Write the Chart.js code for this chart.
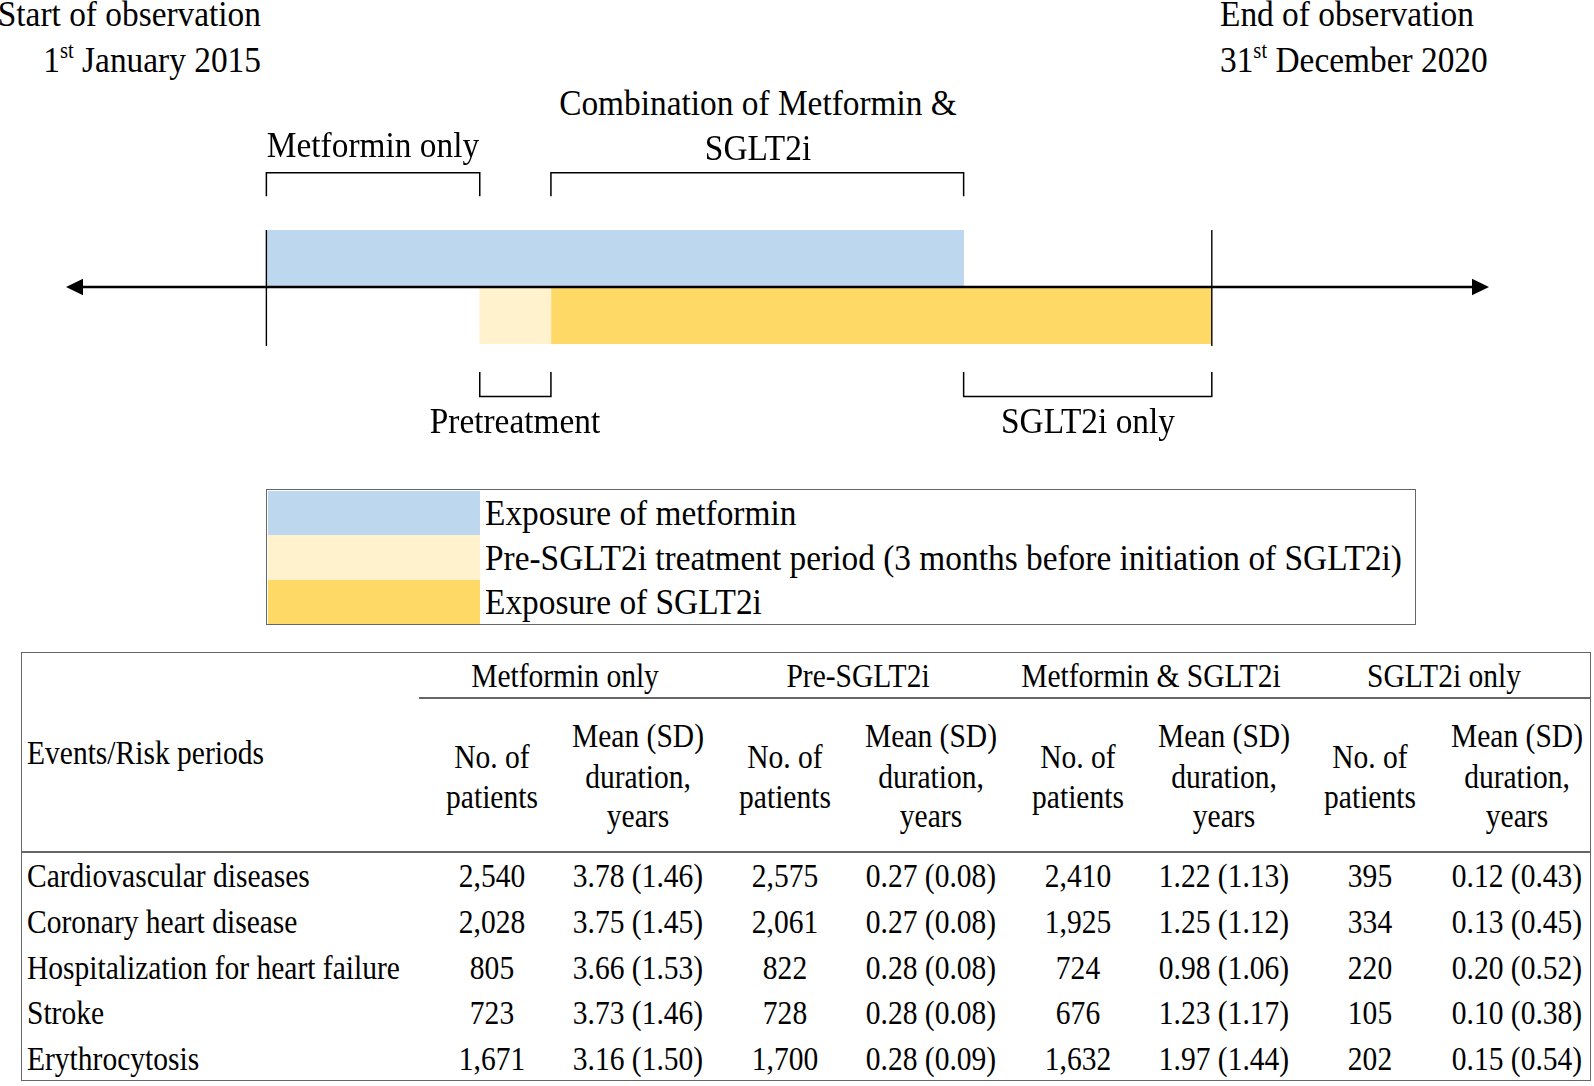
<!DOCTYPE html>
<html>
<head>
<meta charset="utf-8">
<script src="https://cdn.jsdelivr.net/npm/chart.js@4.4.1/dist/chart.umd.min.js"></script>
<style>
body { margin: 0; width: 1594px; height: 1086px; position: relative; overflow: hidden; background: #fff;
  font-family: "Liberation Serif", "Times New Roman", serif; color: #000; }
.t { position: absolute; white-space: nowrap; line-height: 1; }
.t sup { font-size: 0.62em; vertical-align: baseline; position: relative; top: -0.62em; }
.box { position: absolute; box-sizing: border-box; }
#tlwrap { position: absolute; left: 66px; top: 160px; }
</style>
</head>
<body>
<div id="tlwrap"><canvas id="timeline" width="1423" height="250"></canvas></div>

<script>
// timeline, in months from 1 January 2015
var rows = ["Metformin", "SGLT2i"];
var obsStart = 0, obsEnd = 72;
var axisRange = [-15.26, 93.11];
var metforminBar = [0, 53.1];
var preBar = [16.25, 21.67];
var sglt2Bar = [21.67, 72];
var topBrackets = [[0, 16.25], [21.67, 53.1]];
var bottomBrackets = [[16.25, 21.67], [53.1, 72]];
var legendLabels = ["Exposure of metformin",
  "Pre-SGLT2i treatment period (3 months before initiation of SGLT2i)",
  "Exposure of SGLT2i"];

// table
var groups = ["Metformin only", "Pre-SGLT2i", "Metformin & SGLT2i", "SGLT2i only"];
var events = ["Cardiovascular diseases", "Coronary heart disease", "Hospitalization for heart failure", "Stroke", "Erythrocytosis"];
var patients = [
  [2540, 2028, 805, 723, 1671],
  [2575, 2061, 822, 728, 1700],
  [2410, 1925, 724, 676, 1632],
  [395, 334, 220, 105, 202]
];
var meanDur = [
  [3.78, 3.75, 3.66, 3.73, 3.16],
  [0.27, 0.27, 0.28, 0.28, 0.28],
  [1.22, 1.25, 0.98, 1.23, 1.97],
  [0.12, 0.13, 0.20, 0.10, 0.15]
];
var sdDur = [
  [1.46, 1.45, 1.53, 1.46, 1.50],
  [0.08, 0.08, 0.08, 0.08, 0.09],
  [1.13, 1.12, 1.06, 1.17, 1.44],
  [0.43, 0.45, 0.52, 0.38, 0.54]
];

function label(html, x, y, size, align, sx) {
  var d = document.createElement('div');
  d.className = 't';
  d.innerHTML = html;
  d.style.fontSize = size + 'px';
  d.style.left = x + 'px';
  d.style.top = y + 'px';
  var tx = align == 'center' ? '-50%' : (align == 'right' ? '-100%' : '0');
  var ox = align == 'center' ? '50%' : (align == 'right' ? '100%' : '0');
  d.style.transform = 'translate(' + tx + ',-50%) scaleX(' + sx + ')';
  d.style.transformOrigin = ox + ' 50%';
  document.body.appendChild(d);
  return d;
}
function box(x, y, w, h, css) {
  var d = document.createElement('div');
  d.className = 'box';
  d.style.left = x + 'px'; d.style.top = y + 'px';
  d.style.width = w + 'px'; d.style.height = h + 'px';
  for (var k in css) d.style[k] = css[k];
  document.body.appendChild(d);
  return d;
}

var timelinePlugin = {
  id: 'timelineMarks',
  afterDatasetsDraw: function(chart) {
    var c = chart.ctx, xs = chart.scales.x, a = chart.chartArea;
    var px = function(v) { return xs.getPixelForValue(v); };
    var mid = (a.top + a.bottom) / 2;
    c.save();
    c.strokeStyle = '#000';
    c.fillStyle = '#000';

    // start / end of observation
    c.lineWidth = 1.4;
    [obsStart, obsEnd].forEach(function(v) {
      c.beginPath();
      c.moveTo(px(v), a.top);
      c.lineTo(px(v), a.bottom + 2);
      c.stroke();
    });

    // time axis with arrows
    var x0 = px(axisRange[0]), x1 = px(axisRange[1]);
    c.lineWidth = 2.4;
    c.beginPath();
    c.moveTo(x0 + 10, mid);
    c.lineTo(x1 - 10, mid);
    c.stroke();
    c.beginPath();
    c.moveTo(x0, mid); c.lineTo(x0 + 17, mid - 8.3); c.lineTo(x0 + 17, mid + 8.3); c.closePath();
    c.fill();
    c.beginPath();
    c.moveTo(x1, mid); c.lineTo(x1 - 17, mid - 8.3); c.lineTo(x1 - 17, mid + 8.3); c.closePath();
    c.fill();

    // brackets
    c.lineWidth = 1.5;
    topBrackets.forEach(function(b) {
      c.beginPath();
      c.moveTo(px(b[0]), a.top - 33.8);
      c.lineTo(px(b[0]), a.top - 57.2);
      c.lineTo(px(b[1]), a.top - 57.2);
      c.lineTo(px(b[1]), a.top - 33.8);
      c.stroke();
    });
    bottomBrackets.forEach(function(b) {
      c.beginPath();
      c.moveTo(px(b[0]), a.bottom + 28);
      c.lineTo(px(b[0]), a.bottom + 52.5);
      c.lineTo(px(b[1]), a.bottom + 52.5);
      c.lineTo(px(b[1]), a.bottom + 28);
      c.stroke();
    });
    c.restore();
  }
};

var timelineChart = new Chart(document.getElementById('timeline').getContext('2d'), {
  type: 'bar',
  data: {
    labels: rows,
    datasets: [
      { label: legendLabels[0], data: [metforminBar, null], backgroundColor: '#BDD7EE' },
      { label: legendLabels[1], data: [null, preBar], backgroundColor: '#FFF2CC' },
      { label: legendLabels[2], data: [null, sglt2Bar], backgroundColor: '#FFD966' }
    ]
  },
  options: {
    indexAxis: 'y',
    responsive: false,
    animation: false,
    layout: { padding: { top: 70, bottom: 66, left: 0, right: 0 } },
    datasets: { bar: { grouped: false, barPercentage: 1, categoryPercentage: 1, borderWidth: 0 } },
    scales: {
      x: { type: 'linear', min: axisRange[0], max: axisRange[1], display: false },
      y: { display: false }
    },
    plugins: { legend: { display: false }, tooltip: { enabled: false } }
  },
  plugins: [timelinePlugin]
});

// timeline labels
var TF = 36, TS = 0.927;
label('Start of observation', 261, 14, TF, 'right', TS);
label('1<sup>st</sup> January 2015', 261, 59.5, TF, 'right', TS);
label('End of observation', 1220, 14, TF, 'left', TS);
label('31<sup>st</sup> December 2020', 1220, 59.5, TF, 'left', TS);
label('Metformin only', 373, 145.4, TF, 'center', TS);
label('Combination of Metformin &amp;', 758, 102.7, TF, 'center', TS);
label('SGLT2i', 758, 148.4, TF, 'center', TS);
label('Pretreatment', 515, 421, TF, 'center', TS);
label('SGLT2i only', 1088, 421, TF, 'center', TS);

// legend built from the chart datasets
var lineCol = '#666';
box(266, 489, 1150, 136, { border: '1.5px solid ' + lineCol });
timelineChart.data.datasets.forEach(function(ds, i) {
  var top = 490.5 + i * 44.5;
  box(267.5, top, 212, 44.5, { background: ds.backgroundColor });
  label(ds.label, 485, top + 22.5, TF, 'left', TS);
});

// table
var F = 34, S = 0.868;
box(21, 652, 1570, 429, { border: '1.5px solid ' + lineCol });
box(419, 697, 1172, 1.5, { background: lineCol });
box(21, 851, 1570, 1.5, { background: lineCol });
var colX = function(j) { return 492 + 146.4 * j; };
label('Events/Risk periods', 27.4, 753, F, 'left', S);
groups.forEach(function(g, gi) {
  label(g.replace('&', '&amp;'), 565.2 + 292.8 * gi, 676, F, 'center', S);
  label('No. of', colX(2 * gi), 757.4, F, 'center', S);
  label('patients', colX(2 * gi), 797, F, 'center', S);
  label('Mean (SD)', colX(2 * gi + 1), 736, F, 'center', S);
  label('duration,', colX(2 * gi + 1), 776.7, F, 'center', S);
  label('years', colX(2 * gi + 1), 816.3, F, 'center', S);
});
events.forEach(function(ev, r) {
  var y = 876 + 45.8 * r;
  label(ev, 27.4, y, F, 'left', S);
  groups.forEach(function(g, gi) {
    label(patients[gi][r].toLocaleString('en-US'), colX(2 * gi), y, F, 'center', S);
    label(meanDur[gi][r].toFixed(2) + ' (' + sdDur[gi][r].toFixed(2) + ')', colX(2 * gi + 1), y, F, 'center', S);
  });
});
</script>
</body>
</html>
